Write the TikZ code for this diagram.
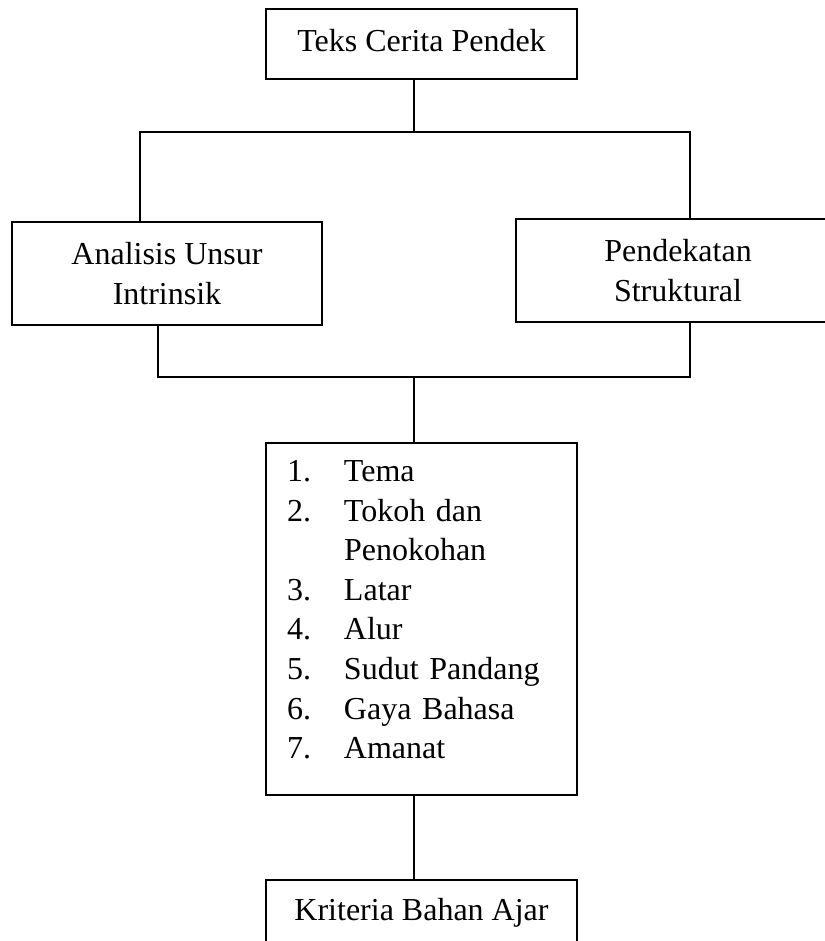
\documentclass[tikz,border=0pt]{standalone}
\usepackage{fontspec}
\setmainfont{Liberation Serif}
\usepackage{tikz}

\tikzset{box/.style={draw, line width=0.6pt, inner sep=0pt, align=center,
  font=\fontsize{16}{19.8}\selectfont}}
\newcommand{\itm}[2]{\makebox[28.5pt][l]{#1}#2}

\begin{document}
\begin{tikzpicture}[x=0.5pt,y=-0.5pt,line width=0.6pt]
\useasboundingbox (0,0) rectangle (824,941);

%% boxes
\node[box, minimum width=155.5pt, minimum height=35pt] (teks) at (421.5,44) {\strut Teks Cerita Pendek};
\node[box, minimum width=155pt, minimum height=51.5pt] (analisis) at (167,273.5) {Analisis Unsur\\Intrinsik};
\node[box, minimum width=162pt, minimum height=51.5pt] (pendekatan) at (678,270.5) {Pendekatan\\Struktural};
\node[box, minimum width=155.5pt, minimum height=176pt, text width=134.5pt, inner xsep=10.5pt, align=left] (unsur) at (421.5,619)
  {\itm{1.}{Tema}\\ \itm{2.}{Tokoh dan}\\ \itm{}{Penokohan}\\ \itm{3.}{Latar}\\ \itm{4.}{Alur}\\
   \itm{5.}{Sudut Pandang}\\ \itm{6.}{Gaya Bahasa}\\ \itm{7.}{Amanat}\rule[-9.5pt]{0pt}{9.5pt}};
\node[box, minimum width=155.5pt, minimum height=33pt] (kriteria) at (421.5,913) {\strut Kriteria Bahan Ajar};

%% junctions
\coordinate (s1) at (414,132);
\coordinate (s2) at (414,377);
\coordinate (kiri1) at (140,132);
\coordinate (kanan1) at (690,132);
\coordinate (kiri2) at (158,377);
\coordinate (kanan2) at (690,377);

%%% edges
\draw (s1 |- teks.south) -- (s1);
\draw (kiri1 |- analisis.north) -- (kiri1) -- (kanan1) -- (kanan1 |- pendekatan.north);
\draw (kiri2 |- analisis.south) -- (kiri2) -- (kanan2) -- (kanan2 |- pendekatan.south);
\draw (s2) -- (s2 |- unsur.north);
\draw (s2 |- unsur.south) -- (s2 |- kriteria.north);

\end{tikzpicture}
\end{document}
